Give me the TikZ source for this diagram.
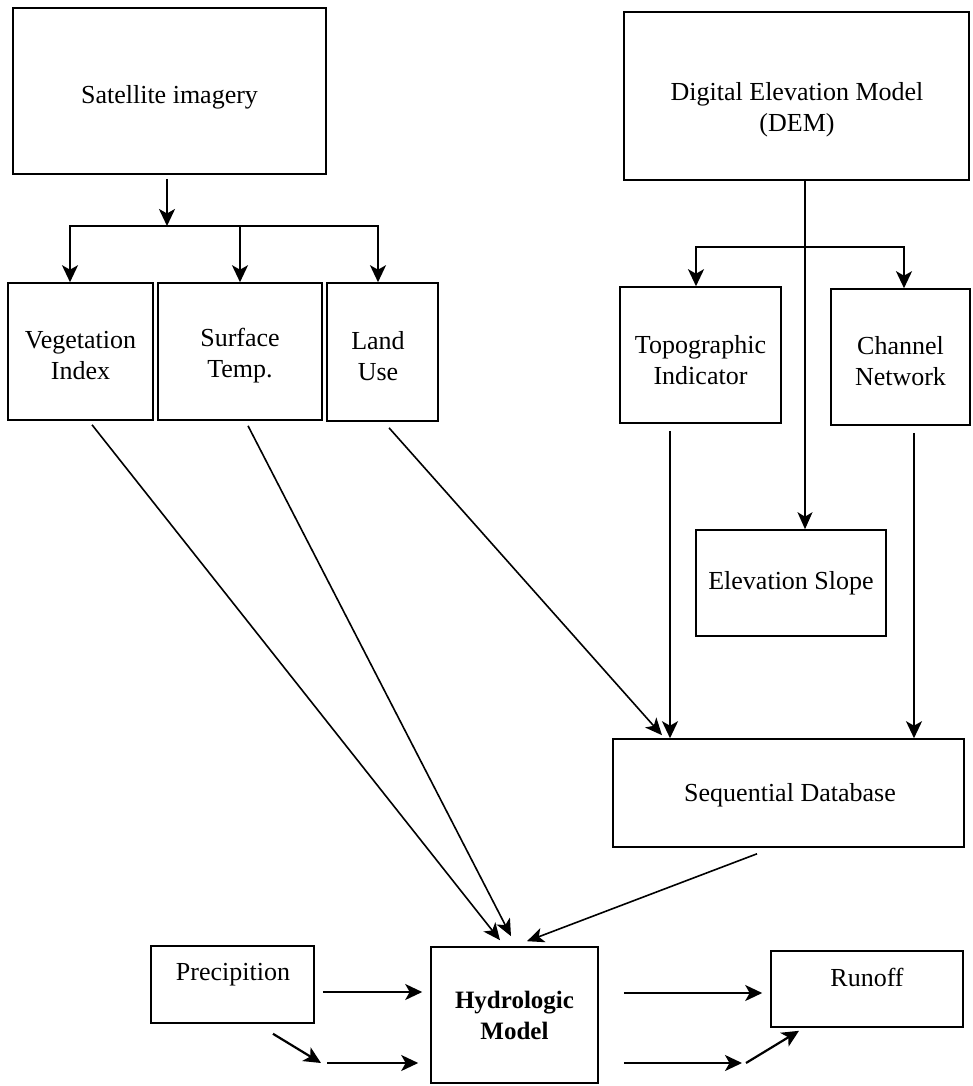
\documentclass[tikz,border=0pt]{standalone}
\usepackage{fontspec}
\setmainfont{Liberation Serif}
\usetikzlibrary{arrows.meta}
\begin{document}
\begin{tikzpicture}[x=1pt,y=-1pt,
  box/.style={draw,line width=1.6pt,inner sep=0pt,align=center,font=\fontsize{26}{31}\selectfont},
  txt/.style={inner sep=0pt,align=center,font=\fontsize{26}{31}\selectfont},
  arr/.style={line width=2.2pt,-{Stealth[length=17pt,width=16pt,inset=4.5pt]}},
  darr/.style={line width=1.6pt,-{Stealth[length=17pt,width=15pt,inset=4.5pt]}}]
\useasboundingbox (0,0) rectangle (972,1086);

% boxes
\node[box,minimum width=313pt,minimum height=166pt] (sat) at (169.5,91) {};
\node[txt] (sattxt) at (169.5,97) {Satellite imagery};
\node[box,minimum width=345pt,minimum height=168pt] (dem) at (796.5,96) {};
\node[txt] (demtxt) at (797,110) {Digital Elevation Model\\(DEM)};

\node[box,minimum width=145pt,minimum height=137pt] (veg) at (80.5,351.5) {};
\node[txt] (vegtxt) at (80.5,356) {Vegetation\\Index};
\node[box,minimum width=164pt,minimum height=137pt] (surf) at (240,351.5) {};
\node[txt] (surftxt) at (240,356) {Surface\\Temp.};
\node[box,minimum width=111pt,minimum height=138pt] (land) at (382.5,352) {};
\node[txt] (landtxt) at (378,356) {Land\\Use};

\node[box,minimum width=161pt,minimum height=136pt] (topo) at (700.5,355) {};
\node[txt] (topotxt) at (700.5,360) {Topographic\\Indicator};
\node[box,minimum width=139pt,minimum height=136pt] (chan) at (900.5,357) {};
\node[txt] (chantxt) at (900.5,361) {Channel\\Network};

\node[box,minimum width=190pt,minimum height=106pt] (elev) at (791,583) {Elevation Slope};

\node[box,minimum width=351pt,minimum height=108pt] (seq) at (788.5,793) {};
\node[txt] (seqtxt) at (790,795) {Sequential Database};

\node[box,minimum width=167pt,minimum height=136pt] (hydro) at (514.5,1015) {};
\node[txt,font=\fontsize{25}{31}\selectfont\bfseries] (hydrotxt) at (514.5,1015) {Hydrologic\\Model};

\node[box,minimum width=163pt,minimum height=77pt] (precip) at (232.5,984.5) {};
\node[txt] (preciptxt) at (233,975) {Precipition};

\node[box,minimum width=192pt,minimum height=76pt] (runoff) at (867,989) {};
\node[txt] (runofftxt) at (867,977) {Runoff};

% satellite split
\coordinate (s1) at (167,226);
\draw[arr] ([xshift=-2.5pt,yshift=-4pt]sat.south) -- (s1);
\draw[arr] (s1) -| ([xshift=-10.5pt]veg.north);
\draw[arr] (s1) -| ([xshift=0pt]surf.north);
\draw[arr] (s1) -| ([xshift=-4.5pt]land.north);

% DEM split
\draw[darr] ([xshift=8.5pt]dem.south) -- ([xshift=14pt]elev.north);
\coordinate (d1) at (805,247);
\draw[arr] (d1) -| ([xshift=-4.5pt]topo.north);
\draw[arr] (d1) -| ([xshift=3.5pt]chan.north);

% into sequential database
\draw[arr] ([xshift=-30.5pt,yshift=-7pt]topo.south) -- ([xshift=-118.5pt]seq.north);
\draw[arr] ([xshift=13.5pt,yshift=-7pt]chan.south) -- ([xshift=125.5pt]seq.north);
\draw[darr] ([xshift=6.5pt,yshift=-6pt]land.south) -- ([xshift=-126.5pt,yshift=3pt]seq.north);

% into hydrologic model
\draw[darr] ([xshift=11.5pt,yshift=-4pt]veg.south) -- ([xshift=-14.5pt,yshift=6pt]hydro.north);
\draw[darr] ([xshift=8pt,yshift=-5pt]surf.south) -- ([xshift=-3.5pt,yshift=10pt]hydro.north);
\draw[darr] ([xshift=-31.5pt,yshift=-6pt]seq.south) -- ([xshift=12.5pt,yshift=5pt]hydro.north);

% precipitation
\draw[arr] ([xshift=8pt,yshift=-7.5pt]precip.east) -- ([xshift=-8pt,yshift=23pt]hydro.west);
\coordinate (p1) at (321,1063);
\draw[arr] ([xshift=40.5pt,yshift=-10pt]precip.south) -- (p1);
\draw[arr] ([xshift=6pt]p1) -- ([xshift=-12pt,yshift=-48pt]hydro.west);

% runoff
\draw[arr] ([xshift=25pt,yshift=22pt]hydro.east) -- ([xshift=-8pt,yshift=-4pt]runoff.west);
\coordinate (r1) at (742,1063);
\draw[arr] ([xshift=25pt,yshift=-48pt]hydro.east) -- (r1);
\draw[arr] ([xshift=4pt]r1) -- ([xshift=-68pt,yshift=-3pt]runoff.south);
\end{tikzpicture}
\end{document}
